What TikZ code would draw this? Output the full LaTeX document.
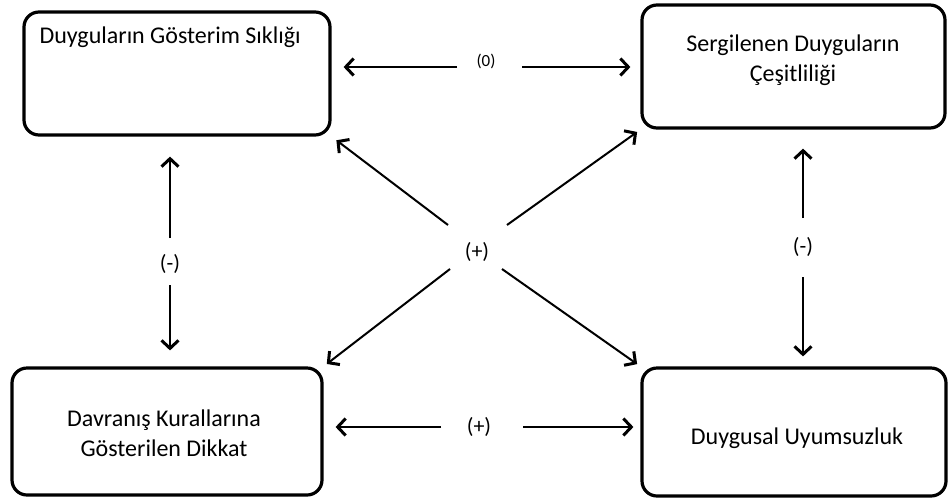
\documentclass[tikz,border=0pt]{standalone}
\usepackage{fontspec}
\setmainfont{Carlito}
\usetikzlibrary{arrows.meta}

\tikzset{
  box/.style={draw, line width=3.2pt, rounded corners=15pt, inner sep=0pt},
  txt/.style={align=center, font=\fontsize{24}{30}\selectfont},
  sign/.style={font=\fontsize{22}{26}\selectfont},
  arr/.style={line width=2pt, -{Straight Barb[length=8pt,width=17pt,line width=3pt]}}
}

\begin{document}
\begin{tikzpicture}[x=1pt,y=-1pt]
\useasboundingbox (0,0) rectangle (949,499);

% the four boxes
\node [box, minimum width=306pt, minimum height=123pt] (freq) at (177,73.5) {};
\node [box, minimum width=303pt, minimum height=123pt] (variety) at (793.5,66.5) {};
\node [box, minimum width=310pt, minimum height=127pt] (rules) at (167,431.5) {};
\node [box, minimum width=304pt, minimum height=128pt] (dissonance) at (794,432) {};

\node [txt, anchor=base west] (freqtext) at (36,43) {Duyguların Gösterim Sıklığı};
\node [txt] (varietytext) at (793,60) {Sergilenen Duyguların\\Çeşitliliği};
\node [txt] (rulestext) at (164,433) {Davranış Kurallarına\\Gösterilen Dikkat};
\node [txt] (dissonancetext) at (797,438) {Duygusal Uyumsuzluk};

% signs
\node [sign, font=\fontsize{17}{20}\selectfont] (zero) at (486,61) {(0)};
\node [sign] (plusmid) at (477,252) {(+)};
\node [sign] (plusbot) at (479,427) {(+)};
\node [sign] (minusl) at (170,264) {(-)};
\node [sign] (minusr) at (803,247) {(-)};

\coordinate (z1) at (457,67);
\coordinate (z2) at (522,67);
\coordinate (p1) at (441,427);
\coordinate (p2) at (523,427);
\coordinate (m1) at (170,238);
\coordinate (m2) at (170,285);
\coordinate (n1) at (803,218);
\coordinate (n2) at (803,277);
\coordinate (d1) at (448,225);
\coordinate (d2) at (507,225);
\coordinate (d3) at (450,269);
\coordinate (d4) at (502,269);

\draw [arr, shorten >=12pt] (z1) -- (freq.east |- z1);
\draw [arr, shorten >=10pt] (z2) -- (variety.west |- z2);
\draw [arr, shorten >=12pt] (p1) -- (rules.east |- p1);
\draw [arr, shorten >=7pt] (p2) -- (dissonance.west |- p2);
\draw [arr, shorten >=20pt] (m1) -- (freq.south -| m1);
\draw [arr, shorten >=16pt] (m2) -- (rules.north -| m2);
\draw [arr, shorten >=19pt] (n1) -- (variety.south -| n1);
\draw [arr, shorten >=10pt] (n2) -- (dissonance.north -| n2);

\draw [arr, shorten >=6pt] (d1) -- (freq.south east);
\draw [arr, shorten >=4pt] (d2) -- (variety.south west);
\draw [arr, shorten >=4pt] (d3) -- (rules.north east);
\draw [arr, shorten >=4pt] (d4) -- (dissonance.north west);
\end{tikzpicture}
\end{document}
